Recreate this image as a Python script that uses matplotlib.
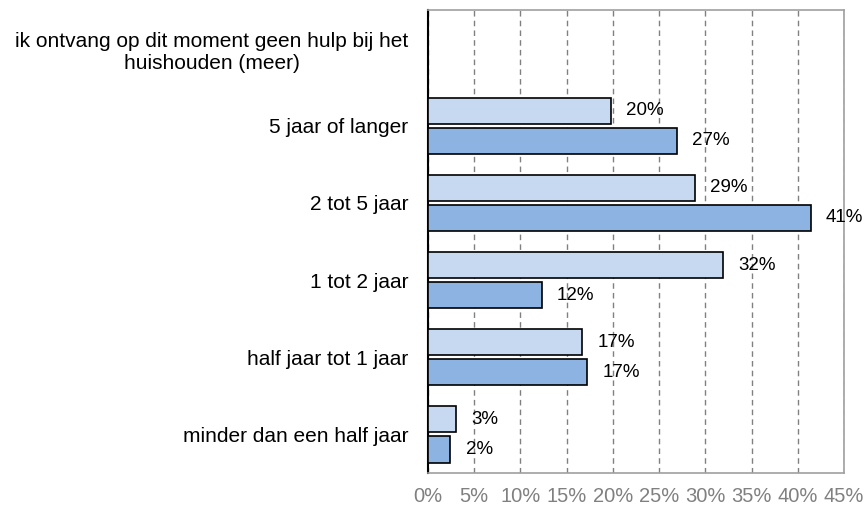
import numpy as np
import matplotlib
matplotlib.use('Agg')
import matplotlib.pyplot as plt

plt.rcParams['font.family'] = ['Liberation Sans', 'DejaVu Sans']

# categorieen van boven naar beneden
categories = ['ik ontvang op dit moment geen hulp bij het\nhuishouden (meer)',
              '5 jaar of langer',
              '2 tot 5 jaar',
              '1 tot 2 jaar',
              'half jaar tot 1 jaar',
              'minder dan een half jaar']
series_light = [np.nan, 19.8, 28.9, 31.9, 16.7, 3.0]
series_dark = [np.nan, 26.9, 41.4, 12.3, 17.2, 2.4]
xticks = [0, 5, 10, 15, 20, 25, 30, 35, 40, 45]
xtick_labels = ['0%', '5%', '10%', '15%', '20%', '25%', '30%', '35%', '40%', '45%']

fig = plt.figure(figsize=(8.67, 5.09), dpi=100)
ax = fig.add_axes([0.4937, 0.0707, 0.4798, 0.9097])

y = np.arange(len(categories))
h = 0.34
off = 0.195
ax.barh(y - off, series_light, height=h, color='#C6D9F1', edgecolor='black', linewidth=1.2, zorder=3)
ax.barh(y + off, series_dark, height=h, color='#8DB3E2', edgecolor='black', linewidth=1.2, zorder=3)

for yy, v in zip(y - off, series_light):
    if not np.isnan(v):
        ax.annotate('{:.0f}%'.format(v), (v, yy), xytext=(11, 0), textcoords='offset points',
                    va='center', ha='left', fontsize=13.5, zorder=4)
for yy, v in zip(y + off, series_dark):
    if not np.isnan(v):
        ax.annotate('{:.0f}%'.format(v), (v, yy), xytext=(11, 0), textcoords='offset points',
                    va='center', ha='left', fontsize=13.5, zorder=4)

ax.set_xlim(0, 45)
ax.set_ylim(len(categories) - 0.5, -0.5)
ax.set_xticks(xticks)
ax.set_xticklabels(xtick_labels, color='#808080', fontsize=14.5)
ax.set_yticks(y)
ax.set_yticklabels(categories, fontsize=15, multialignment='center')
ax.tick_params(axis='y', length=0, pad=14)
ax.tick_params(axis='x', length=0, pad=10)

ax.grid(axis='x', color='#808080', linestyle=(0, (4, 3)), linewidth=1, zorder=0)
ax.spines['left'].set_color('black')
ax.spines['left'].set_linewidth(1.5)
for s in ['top', 'right', 'bottom']:
    ax.spines[s].set_color('#A0A0A0')
    ax.spines[s].set_linewidth(1.2)

fig.savefig('out.png', dpi=100)
